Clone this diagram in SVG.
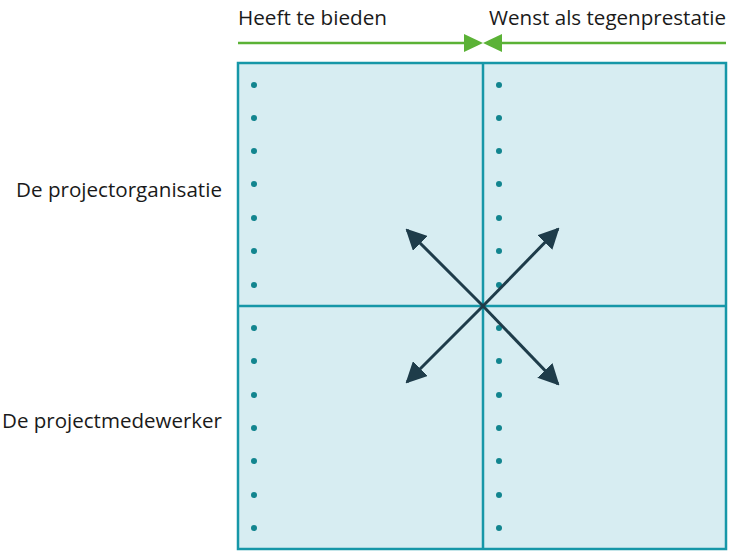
<svg xmlns="http://www.w3.org/2000/svg" width="729" height="553" viewBox="0 0 729 553">
<style>
.lbl{font-family:"Open Sans","Liberation Sans",sans-serif;font-size:19.5px;fill:#1a1a1a}
.grid{fill:none;stroke:#1697a8;stroke-width:2.5}
.dot{fill:#12858f}
.arr{stroke:#1e3c4a;stroke-width:3;fill:none;marker-end:url(#ah)}
</style>
<defs>
<marker id="ah" viewBox="0 0 10 10" refX="9" refY="5" markerWidth="7" markerHeight="7" orient="auto" markerUnits="strokeWidth">
<path d="M0,0 L10,5 L0,10 z" fill="#1e3c4a"/>
</marker>
</defs>
<rect width="729" height="553" fill="#ffffff"/>
<g id="header">
<text class="lbl" x="238" y="25" textLength="149" lengthAdjust="spacingAndGlyphs">Heeft te bieden</text>
<text class="lbl" x="489" y="25" textLength="237" lengthAdjust="spacingAndGlyphs">Wenst als tegenprestatie</text>
</g>
<g id="rowlabels">
<text class="lbl" x="16" y="197" textLength="206" lengthAdjust="spacingAndGlyphs">De projectorganisatie</text>
<text class="lbl" x="2" y="428" textLength="220" lengthAdjust="spacingAndGlyphs">De projectmedewerker</text>
</g>
<g id="matrix">
<rect x="238" y="63" width="488" height="486" fill="#d7edf2"/>
<rect class="grid" x="238" y="63" width="488" height="486"/>
<line class="grid" x1="483" y1="63" x2="483" y2="549"/>
<line class="grid" x1="238" y1="306" x2="726" y2="306"/>
</g>
<g id="dots">
<circle class="dot" cx="254" cy="85" r="3"/><circle class="dot" cx="254" cy="118" r="3"/><circle class="dot" cx="254" cy="151" r="3"/><circle class="dot" cx="254" cy="184" r="3"/><circle class="dot" cx="254" cy="218" r="3"/><circle class="dot" cx="254" cy="251" r="3"/><circle class="dot" cx="254" cy="285" r="3"/>
<circle class="dot" cx="254" cy="328" r="3"/><circle class="dot" cx="254" cy="361" r="3"/><circle class="dot" cx="254" cy="395" r="3"/><circle class="dot" cx="254" cy="428" r="3"/><circle class="dot" cx="254" cy="461" r="3"/><circle class="dot" cx="254" cy="495" r="3"/><circle class="dot" cx="254" cy="528" r="3"/>
<circle class="dot" cx="499" cy="85" r="3"/><circle class="dot" cx="499" cy="118" r="3"/><circle class="dot" cx="499" cy="151" r="3"/><circle class="dot" cx="499" cy="184" r="3"/><circle class="dot" cx="499" cy="218" r="3"/><circle class="dot" cx="499" cy="251" r="3"/><circle class="dot" cx="499" cy="285" r="3"/>
<circle class="dot" cx="499" cy="328" r="3"/><circle class="dot" cx="499" cy="361" r="3"/><circle class="dot" cx="499" cy="395" r="3"/><circle class="dot" cx="499" cy="428" r="3"/><circle class="dot" cx="499" cy="461" r="3"/><circle class="dot" cx="499" cy="495" r="3"/><circle class="dot" cx="499" cy="528" r="3"/>
</g>
<g id="connectors">
<line x1="238" y1="43" x2="468" y2="43" stroke="#5bb236" stroke-width="2.5"/>
<line x1="498" y1="43" x2="726" y2="43" stroke="#5bb236" stroke-width="2.5"/>
<polygon points="464,34 483,43 464,52" fill="#5bb236"/>
<polygon points="502,34 483,43 502,52" fill="#5bb236"/>
<line class="arr" x1="483" y1="306" x2="407" y2="230"/>
<line class="arr" x1="483" y1="306" x2="558" y2="229"/>
<line class="arr" x1="483" y1="306" x2="407" y2="382"/>
<line class="arr" x1="483" y1="306" x2="558" y2="384"/>
</g>
</svg>
